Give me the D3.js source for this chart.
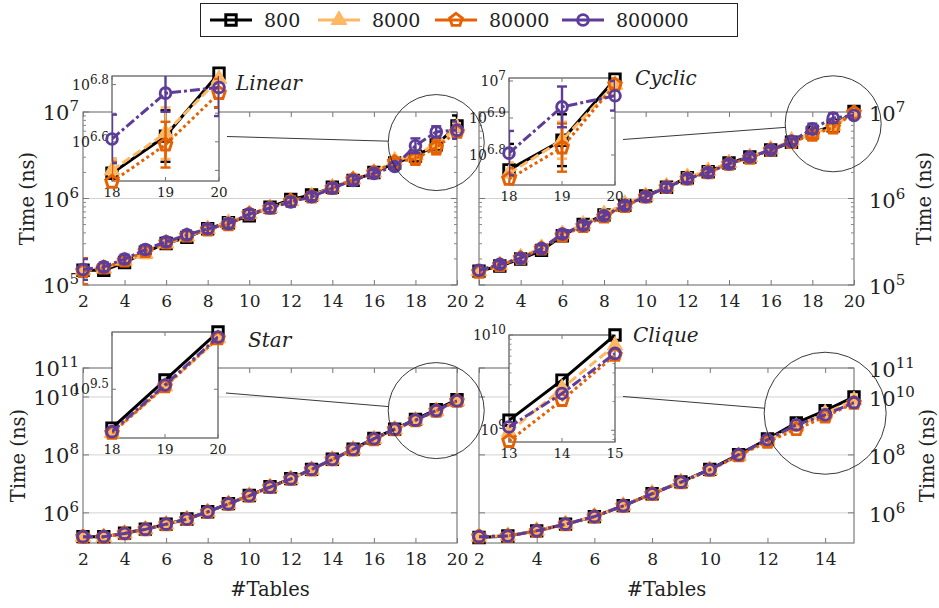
<!DOCTYPE html>
<html>
<head>
<meta charset="utf-8">
<script src="https://cdn.jsdelivr.net/npm/d3@7"></script>
<style>
  body { margin: 0; background: #fff; }
  svg { display: block; }
  text { font-family: "DejaVu Serif", serif; fill: #222; }
</style>
</head>
<body>
<svg id="chart" width="939" height="608"></svg>
<script>
// ---- data (values are log10 of time in ns) ----
const tables20 = [2, 3, 4, 5, 6, 7, 8, 9, 10, 11, 12, 13, 14, 15, 16, 17, 18, 19, 20];
const tables15 = [2, 3, 4, 5, 6, 7, 8, 9, 10, 11, 12, 13, 14, 15];
const seriesNames = ["800", "8000", "80000", "800000"];

const linear800    = [5.17, 5.17, 5.26, 5.38, 5.48, 5.55, 5.65, 5.72, 5.80, 5.90, 5.99, 6.04, 6.13, 6.21, 6.30, 6.41, 6.49, 6.62, 6.84];
const linear8000   = [5.17, 5.19, 5.28, 5.36, 5.48, 5.56, 5.65, 5.72, 5.82, 5.89, 5.97, 6.03, 6.13, 6.22, 6.30, 6.44, 6.50, 6.63, 6.82];
const linear80000  = [5.16, 5.20, 5.28, 5.39, 5.49, 5.57, 5.64, 5.70, 5.82, 5.89, 5.97, 6.02, 6.12, 6.22, 6.30, 6.42, 6.46, 6.59, 6.77];
const linear800000 = [5.18, 5.21, 5.30, 5.41, 5.50, 5.58, 5.65, 5.71, 5.82, 5.89, 5.96, 6.02, 6.12, 6.21, 6.29, 6.37, 6.61, 6.77, 6.79];
// error bar half widths (log10)
const linearErr800    = [0.05, 0.05, 0.05, 0.04, 0.05, 0.05, 0.05, 0.05, 0.05, 0.05, 0.05, 0.04, 0.05, 0.05, 0.04, 0.04, 0.05, 0.09, 0.12];
const linearErr8000   = [0.04, 0.04, 0.04, 0.05, 0.05, 0.04, 0.05, 0.05, 0.05, 0.04, 0.05, 0.04, 0.04, 0.04, 0.04, 0.04, 0.04, 0.09, 0.05];
const linearErr80000  = [0.15, 0.05, 0.05, 0.05, 0.05, 0.05, 0.05, 0.04, 0.05, 0.05, 0.05, 0.05, 0.05, 0.04, 0.04, 0.04, 0.07, 0.08, 0.05];
const linearErr800000 = [0.12, 0.05, 0.05, 0.05, 0.05, 0.05, 0.05, 0.05, 0.05, 0.05, 0.05, 0.04, 0.05, 0.05, 0.04, 0.04, 0.085, 0.065, 0.10];

const cyclic800    = [5.16, 5.22, 5.30, 5.40, 5.57, 5.70, 5.81, 5.92, 6.03, 6.13, 6.24, 6.31, 6.41, 6.48, 6.56, 6.65, 6.76, 6.84, 7.005];
const cyclic8000   = [5.16, 5.23, 5.32, 5.43, 5.59, 5.70, 5.82, 5.94, 6.03, 6.14, 6.25, 6.32, 6.41, 6.48, 6.57, 6.67, 6.75, 6.84, 6.99];
const cyclic80000  = [5.15, 5.23, 5.31, 5.42, 5.57, 5.68, 5.79, 5.91, 6.02, 6.13, 6.23, 6.30, 6.40, 6.47, 6.56, 6.65, 6.735, 6.82, 6.99];
const cyclic800000 = [5.17, 5.24, 5.31, 5.42, 5.59, 5.69, 5.80, 5.92, 6.02, 6.13, 6.23, 6.30, 6.40, 6.48, 6.56, 6.66, 6.805, 6.93, 6.96];
const cyclicErr800    = [0.04, 0.04, 0.04, 0.04, 0.04, 0.05, 0.04, 0.04, 0.04, 0.04, 0.04, 0.04, 0.04, 0.03, 0.03, 0.03, 0.07, 0.07, 0.03];
const cyclicErr8000   = [0.04, 0.04, 0.04, 0.04, 0.04, 0.04, 0.04, 0.04, 0.04, 0.04, 0.04, 0.04, 0.03, 0.03, 0.03, 0.03, 0.03, 0.05, 0.03];
const cyclicErr80000  = [0.05, 0.04, 0.04, 0.04, 0.04, 0.04, 0.04, 0.04, 0.04, 0.04, 0.04, 0.04, 0.04, 0.03, 0.03, 0.03, 0.03, 0.065, 0.03];
const cyclicErr800000 = [0.05, 0.04, 0.04, 0.04, 0.04, 0.04, 0.04, 0.04, 0.04, 0.04, 0.04, 0.04, 0.04, 0.03, 0.03, 0.03, 0.06, 0.055, 0.04];

const star800    = [5.18, 5.18, 5.30, 5.44, 5.61, 5.79, 6.04, 6.32, 6.60, 6.90, 7.18, 7.50, 7.85, 8.20, 8.57, 8.89, 9.225, 9.565, 9.905];
const star8000   = [5.17, 5.17, 5.29, 5.43, 5.60, 5.78, 6.03, 6.31, 6.59, 6.89, 7.17, 7.49, 7.84, 8.19, 8.55, 8.88, 9.19, 9.52, 9.86];
const star80000  = [5.17, 5.17, 5.29, 5.43, 5.60, 5.78, 6.03, 6.31, 6.59, 6.89, 7.17, 7.49, 7.84, 8.18, 8.53, 8.88, 9.19, 9.52, 9.86];
const star800000 = [5.18, 5.18, 5.29, 5.43, 5.61, 5.78, 6.035, 6.31, 6.59, 6.89, 7.17, 7.50, 7.84, 8.19, 8.56, 8.89, 9.20, 9.53, 9.87];

const clique800    = [5.15, 5.20, 5.38, 5.61, 5.87, 6.25, 6.66, 7.07, 7.50, 8.01, 8.55, 9.105, 9.526, 10.0];
const clique8000   = [5.18, 5.21, 5.39, 5.62, 5.88, 6.25, 6.67, 7.07, 7.48, 7.97, 8.50, 8.98, 9.44, 9.89];
const clique80000  = [5.18, 5.20, 5.37, 5.60, 5.87, 6.24, 6.65, 7.05, 7.48, 7.98, 8.45, 8.886, 9.316, 9.79];
const clique800000 = [5.18, 5.20, 5.38, 5.61, 5.87, 6.24, 6.66, 7.06, 7.49, 8.01, 8.53, 9.035, 9.386, 9.807];

// tick labels
const xTicks20 = [2, 4, 6, 8, 10, 12, 14, 16, 18, 20];
const xTicks15 = [2, 4, 6, 8, 10, 12, 14];
const topYTicks = [5, 6, 7];
const bottomYTicks = [6, 8, 10, 11];
const linearInsetTicks = [6.5, 6.6, 6.7, 6.8], linearInsetLabels = [6.6, 6.8];
const cyclicInsetTicks = [6.8, 6.9, 7], cyclicInsetLabels = [6.8, 6.9, 7];
const starInsetTicks = [9.5], starInsetLabels = [9.5];
const cliqueInsetTicks = [9, 10], cliqueInsetLabels = [9, 10];

// ---- styles ----
const styles = [
  {color: "#000000", dash: null,       shape: "square"},
  {color: "#fdb863", dash: "9,4",      shape: "triangle"},
  {color: "#e66101", dash: "3,3",      shape: "pentagon"},
  {color: "#5e3c99", dash: "10,3,3,3", shape: "circle"}
];

const svg = d3.select("#chart");

function markerD(shape) {
  if (shape === "square") return d3.symbol(d3.symbolSquare, 110)();
  if (shape === "triangle") return d3.symbol(d3.symbolTriangle, 105)();
  if (shape === "circle") return d3.symbol(d3.symbolCircle, 90)();
  const r = 6.6;
  return "M" + d3.range(5).map(k => {
    const a = -Math.PI / 2 + k * 2 * Math.PI / 5;
    return [r * Math.cos(a), r * Math.sin(a)].join(",");
  }).join("L") + "Z";
}

function drawMarker(g, st, px, py) {
  const p = g.append("path").attr("d", markerD(st.shape))
    .attr("transform", "translate(" + px + "," + py + ")");
  if (st.shape === "triangle") p.attr("fill", st.color).attr("stroke", st.color).attr("stroke-width", 1);
  else p.attr("fill", "none").attr("stroke", st.color).attr("stroke-width", 2.9);
}

function expText(e) { return Number.isInteger(e) ? String(e) : e.toFixed(1); }

function powLabel(g, px, py, e, anchor, size, supSize) {
  const t = g.append("text").attr("x", px).attr("y", py)
    .attr("text-anchor", anchor).attr("font-size", size);
  t.append("tspan").text("10");
  t.append("tspan").attr("font-size", supSize).attr("dy", -size * 0.42).text(expText(e));
}

function plotSeries(g, x, y, xs, series, errs, clipId, xMin) {
  series.forEach((vals, i) => {
    const st = styles[i];
    const pts = xs.map((xv, j) => ({x: xv, v: vals[j], e: errs ? errs[i][j] : 0}))
      .filter(d => d.x >= xMin);
    const cg = g.append("g").attr("clip-path", "url(#" + clipId + ")");
    if (errs) {
      const eb = cg.append("g").attr("stroke", st.color).attr("stroke-width", 2.4);
      pts.forEach(d => {
        const cx = x(d.x), ya = y(10 ** (d.v - d.e)), yb = y(10 ** (d.v + d.e));
        eb.append("line").attr("x1", cx).attr("x2", cx).attr("y1", ya).attr("y2", yb);
        eb.append("line").attr("x1", cx - 5).attr("x2", cx + 5).attr("y1", ya).attr("y2", ya);
        eb.append("line").attr("x1", cx - 5).attr("x2", cx + 5).attr("y1", yb).attr("y2", yb);
      });
    }
    cg.append("path").datum(pts)
      .attr("d", d3.line().x(d => x(d.x)).y(d => y(10 ** d.v)))
      .attr("fill", "none").attr("stroke", st.color).attr("stroke-width", 3)
      .attr("stroke-dasharray", st.dash);
    pts.forEach(d => drawMarker(g, st, x(d.x), y(10 ** d.v)));
  });
}

function yTicks(g, y, x0, x1, exps, len, color) {
  exps.forEach(e => {
    const yy = y(10 ** e);
    g.append("line").attr("x1", x0).attr("x2", x0 + len).attr("y1", yy).attr("y2", yy).attr("stroke", color);
    g.append("line").attr("x1", x1).attr("x2", x1 - len).attr("y1", yy).attr("y2", yy).attr("stroke", color);
  });
}

const panels = [
  {id: "linear", title: "Linear", titleX: 236, titleY: 90, box: [83, 112, 457, 285], side: "left", labelX: 27,
   xs: tables20, xDomain: [2, 20], xTicks: xTicks20, yLo: 5, yHi: 7, yMajor: topYTicks, minor: true, grid: [6],
   series: [linear800, linear8000, linear80000, linear800000],
   errs: [linearErr800, linearErr8000, linearErr80000, linearErr800000],
   inset: {box: [112, 76, 219, 181], xDomain: [18, 20], xTicks: [18, 19, 20], yLo: 6.463, yHi: 6.83,
           yTicks: linearInsetTicks, yLabels: linearInsetLabels, minor: false, r: 48}},
  {id: "cyclic", title: "Cyclic", titleX: 635, titleY: 85, box: [479, 112, 854, 285], side: "right", labelX: 924,
   xs: tables20, xDomain: [2, 20], xTicks: xTicks20, yLo: 5, yHi: 7, yMajor: topYTicks, minor: true, grid: [6],
   series: [cyclic800, cyclic8000, cyclic80000, cyclic800000],
   errs: [cyclicErr800, cyclicErr8000, cyclicErr80000, cyclicErr800000],
   inset: {box: [509, 78, 615, 185], xDomain: [18, 20], xTicks: [18, 19, 20], yLo: 6.719, yHi: 7.008,
           yTicks: cyclicInsetTicks, yLabels: cyclicInsetLabels, minor: false, r: 48}},
  {id: "star", title: "Star", titleX: 248, titleY: 347, box: [83, 368, 457, 543], side: "left", labelX: 18,
   xs: tables20, xDomain: [2, 20], xTicks: xTicks20, yLo: 4.96, yHi: 11, yMajor: bottomYTicks, minor: false, grid: [6, 8, 10],
   series: [star800, star8000, star80000, star800000], errs: null, xlabel: true,
   inset: {box: [112, 332, 218, 438], xDomain: [18, 20], xTicks: [18, 19, 20], yLo: 9.155, yHi: 9.905,
           yTicks: starInsetTicks, yLabels: starInsetLabels, minor: false, r: 48}},
  {id: "clique", title: "Clique", titleX: 633, titleY: 342, box: [479, 368, 854, 543], side: "right", labelX: 927,
   xs: tables15, xDomain: [2, 15], xTicks: xTicks15, yLo: 4.96, yHi: 11, yMajor: bottomYTicks, minor: false, grid: [6, 8, 10],
   series: [clique800, clique8000, clique80000, clique800000], errs: null, xlabel: true,
   inset: {box: [509, 335, 615, 442], xDomain: [13, 15], xTicks: [13, 14, 15], yLo: 8.877, yHi: 10.0,
           yTicks: cliqueInsetTicks, yLabels: cliqueInsetLabels, minor: true, r: 61}}
];

const defs = svg.append("defs");
const mainLayer = svg.append("g");
const insetLayer = svg.append("g");
const spyLayer = svg.append("g");

panels.forEach(p => {
  const [x0, y0, x1, y1] = p.box;
  const x = d3.scaleLinear().domain(p.xDomain).range([x0, x1]);
  const y = d3.scaleLog().domain([10 ** p.yLo, 10 ** p.yHi]).range([y1, y0]);
  const g = mainLayer.append("g");

  g.selectAll(null).data(p.grid).enter().append("line")
    .attr("x1", x0).attr("x2", x1)
    .attr("y1", e => y(10 ** e)).attr("y2", e => y(10 ** e))
    .attr("stroke", "#d2d2d2").attr("stroke-width", 1);

  g.append("rect").attr("x", x0).attr("y", y0).attr("width", x1 - x0).attr("height", y1 - y0)
    .attr("fill", "none").attr("stroke", "#707070").attr("stroke-width", 1.1);

  const xb = g.append("g").attr("transform", "translate(0," + y1 + ")")
    .call(d3.axisBottom(x).tickValues(p.xTicks).tickSizeInner(-5).tickSizeOuter(0));
  xb.select(".domain").remove();
  xb.attr("font-family", null).attr("font-size", 17);
  xb.selectAll("line").attr("stroke", "#777");
  xb.selectAll("text").attr("y", 22).attr("dy", null).attr("fill", "#222");
  const xt = g.append("g").attr("transform", "translate(0," + y0 + ")")
    .call(d3.axisTop(x).tickValues(p.xTicks).tickSizeInner(-5).tickSizeOuter(0).tickFormat(""));
  xt.select(".domain").remove();
  xt.selectAll("line").attr("stroke", "#777");

  yTicks(g, y, x0, x1, p.yMajor, 6, "#777");
  if (p.minor) {
    const minors = [];
    for (let k = Math.floor(p.yLo); k < p.yHi; k++) for (let m = 2; m < 10; m++) minors.push(k + Math.log10(m));
    yTicks(g, y, x0, x1, minors, 3, "#888");
  }

  p.yMajor.forEach(e => {
    if (p.side === "left") powLabel(g, x0 - 4, y(10 ** e) + 8, e, "end", 21, 15);
    else powLabel(g, x1 + 15, y(10 ** e) + 9, e, "start", 21, 15);
  });

  g.append("text").attr("transform", "translate(" + p.labelX + "," + ((y0 + y1) / 2) + ") rotate(-90)")
    .attr("text-anchor", "middle").attr("dy", "0.35em").attr("font-size", 19.5).text("Time (ns)");
  if (p.xlabel) {
    g.append("text").attr("x", (x0 + x1) / 2).attr("y", 596).attr("text-anchor", "middle")
      .attr("font-size", 19.5).text("#Tables");
  }
  g.append("text").attr("x", p.titleX).attr("y", p.titleY).attr("font-size", 20)
    .attr("font-style", "italic").text(p.title);

  defs.append("clipPath").attr("id", "clip-" + p.id).append("rect")
    .attr("x", x0).attr("y", y0).attr("width", x1 - x0).attr("height", y1 - y0);
  plotSeries(g, x, y, p.xs, p.series, p.errs, "clip-" + p.id, p.xDomain[0]);

  // ---- inset ----
  const q = p.inset;
  const [ix0, iy0, ix1, iy1] = q.box;
  const ix = d3.scaleLinear().domain(q.xDomain).range([ix0, ix1]);
  const iy = d3.scaleLog().domain([10 ** q.yLo, 10 ** q.yHi]).range([iy1, iy0]);
  const ig = insetLayer.append("g");
  ig.append("rect").attr("x", ix0).attr("y", iy0).attr("width", ix1 - ix0).attr("height", iy1 - iy0)
    .attr("fill", "#fff").attr("stroke", "#333").attr("stroke-width", 1);
  q.xTicks.forEach(t => {
    ig.append("line").attr("x1", ix(t)).attr("x2", ix(t)).attr("y1", iy1).attr("y2", iy1 - 4).attr("stroke", "#777");
    ig.append("line").attr("x1", ix(t)).attr("x2", ix(t)).attr("y1", iy0).attr("y2", iy0 + 4).attr("stroke", "#777");
    ig.append("text").attr("x", ix(t)).attr("y", iy1 + 16).attr("text-anchor", "middle")
      .attr("font-size", 13.5).text(t);
  });
  yTicks(ig, iy, ix0, ix1, q.yTicks, 4, "#777");
  if (q.minor) {
    const minors = [];
    for (let k = Math.floor(q.yLo); k < q.yHi; k++) for (let m = 2; m < 10; m++) minors.push(k + Math.log10(m));
    yTicks(ig, iy, ix0, ix1, minors.filter(e => e > q.yLo && e < q.yHi), 2.5, "#888");
  }
  q.yLabels.forEach(e => powLabel(ig, ix0 - 3, iy(10 ** e) + 5, e, "end", 14, 12));
  defs.append("clipPath").attr("id", "clip-" + p.id + "-inset").append("rect")
    .attr("x", ix0).attr("y", iy0).attr("width", ix1 - ix0).attr("height", iy1 - iy0);
  plotSeries(ig, ix, iy, p.xs, p.series, p.errs, "clip-" + p.id + "-inset", q.xDomain[0]);

  // ---- spy circle and connector ----
  const cx = x((q.xDomain[0] + q.xDomain[1]) / 2);
  const cy = y(10 ** ((q.yLo + q.yHi) / 2));
  spyLayer.append("circle").attr("cx", cx).attr("cy", cy).attr("r", q.r)
    .attr("fill", "none").attr("stroke", "#222").attr("stroke-width", 0.9);
  const sx = ix1 + 8, sy = (iy0 + iy1) / 2 + 8;
  const dx = cx - sx, dy = cy - sy, dl = Math.hypot(dx, dy);
  spyLayer.append("line").attr("x1", sx).attr("y1", sy)
    .attr("x2", cx - q.r * dx / dl).attr("y2", cy - q.r * dy / dl)
    .attr("stroke", "#222").attr("stroke-width", 0.9);
});

// ---- legend ----
const lg = svg.append("g");
lg.append("rect").attr("x", 200.5).attr("y", 3.5).attr("width", 537).attr("height", 33)
  .attr("fill", "#fff").attr("stroke", "#222").attr("stroke-width", 1);
const legendLineX = [210, 318, 435, 562];
seriesNames.forEach((name, i) => {
  const st = styles[i], lx = legendLineX[i];
  lg.append("line").attr("x1", lx).attr("x2", lx + 42).attr("y1", 20).attr("y2", 20)
    .attr("stroke", st.color).attr("stroke-width", 3);
  drawMarker(lg, st, lx + 21, 20);
  lg.append("text").attr("x", lx + 54).attr("y", 27).attr("font-size", 19).text(name);
});
</script>
</body>
</html>
